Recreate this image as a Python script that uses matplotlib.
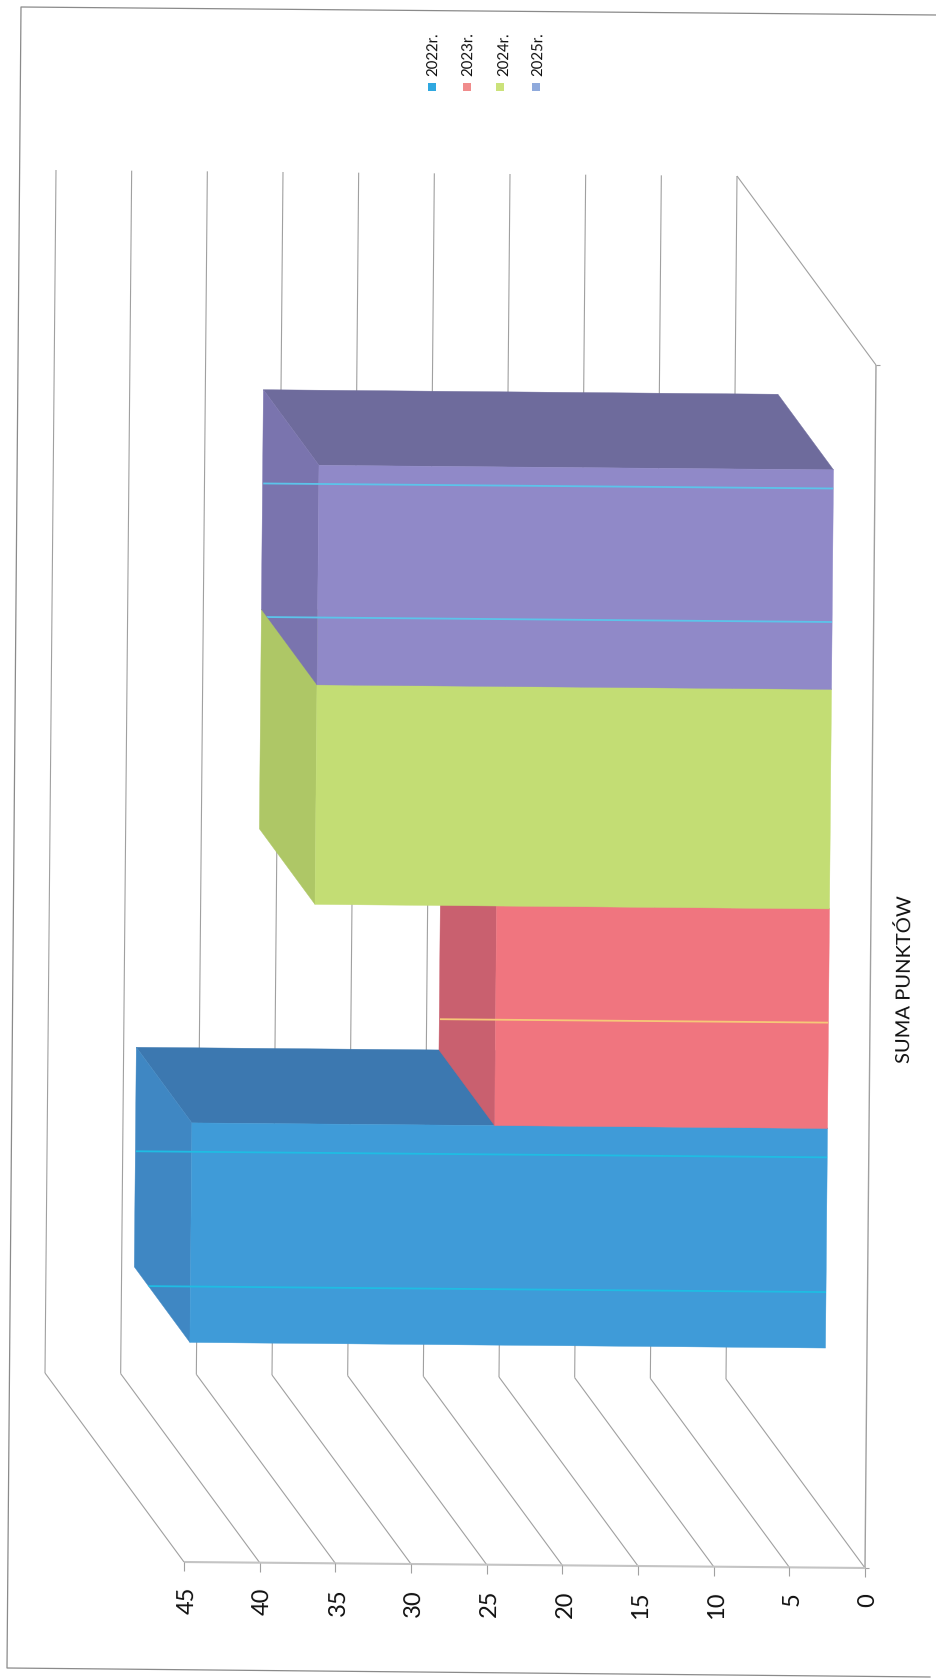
import numpy as np
import matplotlib
matplotlib.use("Agg")
import matplotlib.pyplot as plt
from matplotlib.patches import Polygon

plt.rcParams['font.family'] = ['Lato', 'DejaVu Sans']

# ---- data ----
series_names = ['2022r.', '2023r.', '2024r.', '2025r.']
series_values = [42, 22, 34, 34]
value_ticks = [0, 5, 10, 15, 20, 25, 30, 35, 40, 45]
category_label = 'SUMA PUNKTÓW'
front_colors = ['#3F9BD8', '#F0757F', '#C3DD74', '#9089C8']
side_colors = ['#3F87C3', '#C9606F', '#AEC766', '#7A74AE']
end_colors = ['#3C78B0', '#C9606F', '#AEC766', '#6E6B9C']
legend_colors = ['#2FA8E0', '#F08C8C', '#CBE27A', '#8FAADC']
# scanner streaks across the columns: (series index, position along category axis, colour)
streak_series = [3, 3, 1, 0, 0]
streak_pos = [0.851, 0.740, 0.407, 0.295, 0.183]
streak_cols = ['#5CC4EA', '#5CC4EA', '#F6C878', '#1FBDE3', '#1FBDE3']

# ---- oblique projection of the sideways 3-D column chart ----
ORIGIN = np.array([865.0, 1568.0])
V_VALUE = np.array([-681.0 / 45, -6.0 / 45])
V_CAT = np.array([11.0, -1203.0])
V_DEPTH = np.array([-139.0, -189.0])
CAT_START, BAR_SPAN = 0.1365, 0.1825
D0, D1 = 0.295, 0.695
TEXT_ROT = 89.5


def proj(v, c, d):
    return ORIGIN + v * V_VALUE + c * V_CAT + d * V_DEPTH


fig = plt.figure(figsize=(9.37, 16.78), dpi=100, facecolor='white')
ax = fig.add_axes([0, 0, 1, 1])
ax.set_xlim(0, 937)
ax.set_ylim(1678, 0)
ax.axis('off')

# outer chart frame
frame = np.array([[937, 15], [21, 7], [7, 1668], [930, 1677]])
ax.plot(frame[:, 0], frame[:, 1], color='#8A8A8A', lw=0.9, zorder=1)

GRID = '#A0A0A0'


def seg(p, q, **kw):
    return ax.plot([p[0], q[0]], [p[1], q[1]], solid_capstyle='butt', **kw)[0]


# walls
for v in value_ticks:
    seg(proj(v, 0, 1), proj(v, 1, 1), color=GRID, lw=0.8, zorder=2)
    seg(proj(v, 0, 0), proj(v, 0, 1), color=GRID, lw=0.8, zorder=2)
seg(proj(0, 1, 0), proj(0, 1, 1), color=GRID, lw=0.8, zorder=2)
seg(proj(0, 0, 0), proj(0, 1, 0), color='#A0A0A0', lw=1.0, zorder=2)
seg(proj(0, 0, 0), proj(value_ticks[-1], 0, 0), color='#C4C4C4', lw=1.5, zorder=2)

# ticks and labels
for v in value_ticks:
    p = proj(v, 0, 0)
    seg(p, p + np.array([0, 9]), color='#A0A0A0', lw=0.8, zorder=2)
    ax.text(p[0] + 3, p[1] + 25, str(v), rotation=TEXT_ROT, rotation_mode='anchor',
            ha='right', va='center', fontsize=17, color='#111111', zorder=6)
for c in (0, 1):
    p = proj(0, c, 0)
    seg(p, p + np.array([4, 0]), color='#A0A0A0', lw=0.8, zorder=2)
ax.text(905, 979, category_label, rotation=TEXT_ROT, rotation_mode='anchor',
        ha='center', va='center', fontsize=14.5, color='#111111', zorder=6)

# columns, from the nearest to the back edge
silhouettes = []
for i, val in enumerate(series_values):
    c0 = CAT_START + i * BAR_SPAN
    c1 = c0 + BAR_SPAN
    faces = [
        ([proj(0, c1, D0), proj(0, c1, D1), proj(val, c1, D1), proj(val, c1, D0)], end_colors[i]),
        ([proj(val, c0, D0), proj(val, c1, D0), proj(val, c1, D1), proj(val, c0, D1)], side_colors[i]),
        ([proj(0, c0, D0), proj(0, c1, D0), proj(val, c1, D0), proj(val, c0, D0)], front_colors[i]),
    ]
    for pts, col in faces:
        ax.add_patch(Polygon(pts, closed=True, facecolor=col, edgecolor=col, lw=0.3, zorder=3))
    silhouettes.append([proj(0, c0, D0), proj(0, c1, D0), proj(val, c1, D0), proj(val, c1, D1),
                        proj(val, c0, D1), proj(val, c0, D0)])

# streaks run straight over the front and side faces, clipped to the column outline
for s, c, col in zip(streak_series, streak_pos, streak_cols):
    val = series_values[s]
    reach = val + (proj(0, 0, D0)[0] - proj(0, 0, D1)[0]) / -V_VALUE[0]
    line = seg(proj(0, c, D0), proj(reach, c, D0), color=col, lw=1.3, zorder=4)
    clip = Polygon(silhouettes[s], closed=True, transform=ax.transData)
    line.set_clip_path(clip)

# legend
legend_x = [432, 467, 500, 536]
legend_tx = [433, 468, 504, 538]
for name, col, mx, tx in zip(series_names, legend_colors, legend_x, legend_tx):
    ax.plot([mx], [87], marker='s', ms=5.8, mfc=col, mec=col, mew=0, ls='none', zorder=6)
    ax.text(tx, 76, name, rotation=TEXT_ROT, rotation_mode='anchor', ha='left', va='center',
            fontsize=10.8, color='#111111', zorder=6)

fig.savefig('out.png', dpi=100, facecolor='white')
